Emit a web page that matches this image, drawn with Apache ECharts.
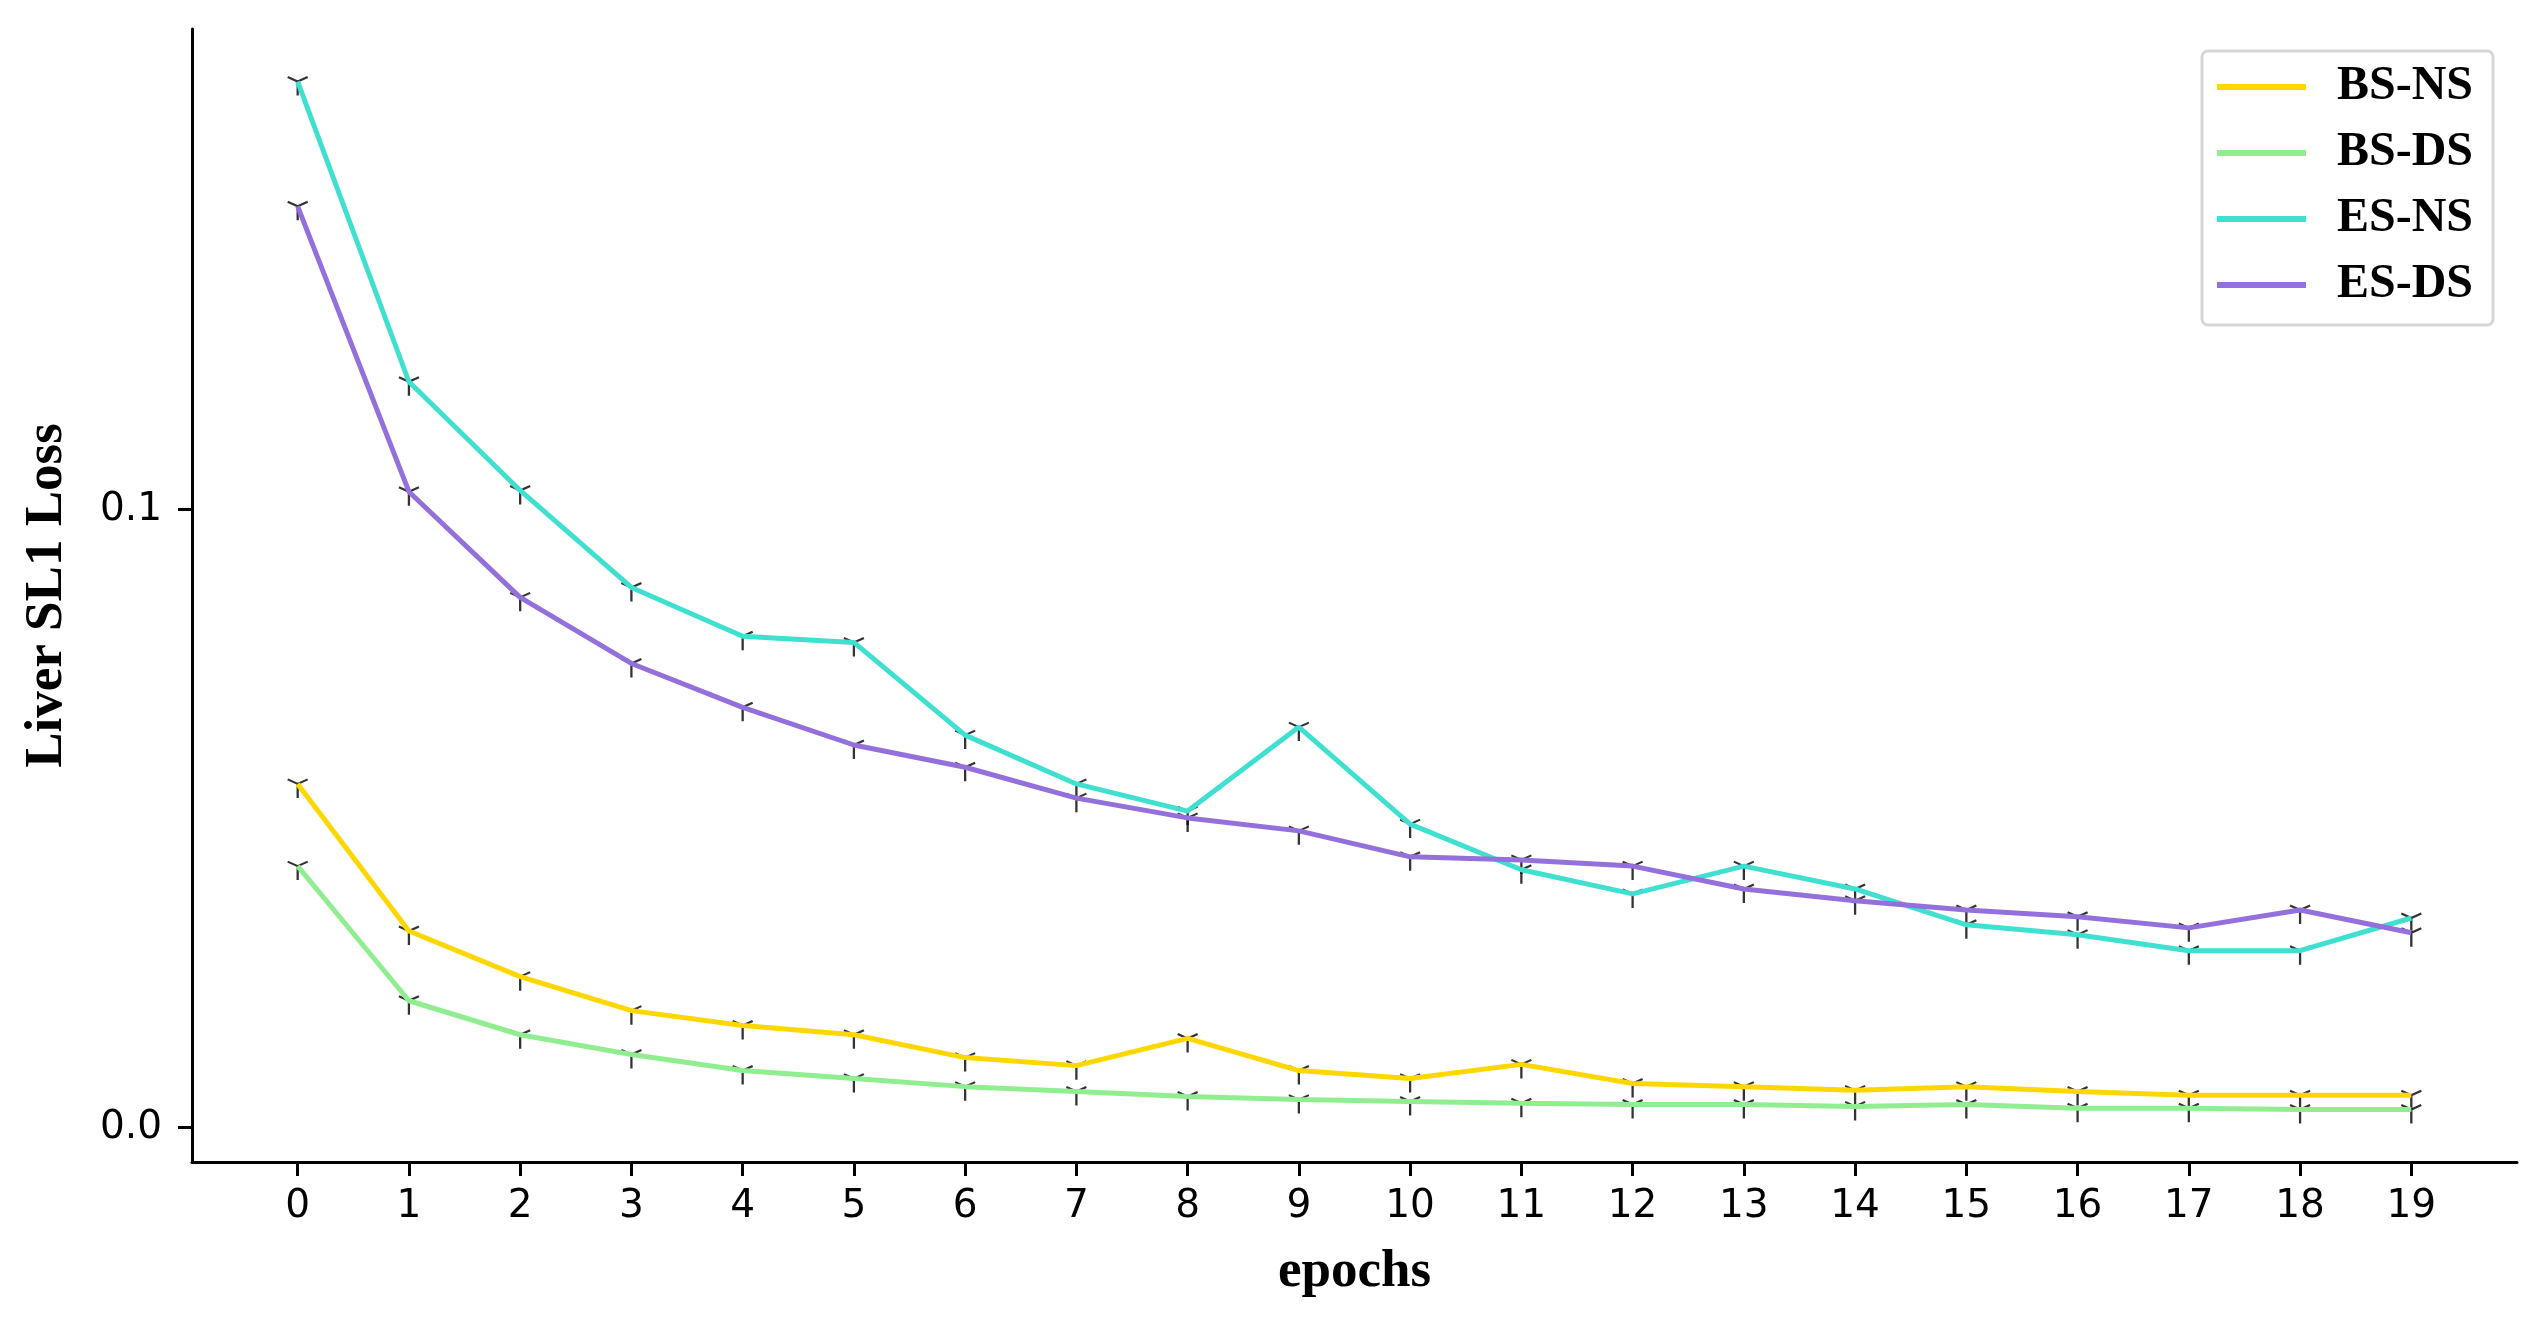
<!DOCTYPE html>
<html>
<head>
<meta charset="utf-8">
<script src="https://cdn.jsdelivr.net/npm/echarts@6/dist/echarts.min.js"></script>
<style>
html,body{margin:0;padding:0;background:#fff;}
#chart{width:2546px;height:1327px;}
</style>
</head>
<body>
<div id="chart"></div>
<script>
var epochs = [0,1,2,3,4,5,6,7,8,9,10,11,12,13,14,15,16,17,18,19];
var xTicks = [0,1,2,3,4,5,6,7,8,9,10,11,12,13,14,15,16,17,18,19];
var yTicks = [0, 0.1];
var names = ['BS-NS','BS-DS','ES-NS','ES-DS'];
var colors = ['#FFD700','#90EE90','#40E0D0','#9370DB'];

var bsNs = [0.0556,0.0318,0.0244,0.0189,0.0165,0.0150,0.0113,0.0100,0.0144,0.0092,
            0.0079,0.0102,0.0071,0.0066,0.0060,0.0066,0.0058,0.0052,0.0052,0.0052];
var bsDs = [0.0423,0.0205,0.0150,0.0118,0.0092,0.0079,0.0066,0.0058,0.0050,0.0045,
            0.0042,0.0039,0.0037,0.0037,0.0034,0.0037,0.0031,0.0031,0.0029,0.0029];
var esNs = [0.1693,0.1207,0.1031,0.0874,0.0795,0.0785,0.0635,0.0556,0.0512,0.0648,
            0.0491,0.0417,0.0378,0.0423,0.0386,0.0328,0.0312,0.0286,0.0286,0.0339];
var esDs = [0.1491,0.1029,0.0858,0.0751,0.0680,0.0619,0.0583,0.0533,0.0501,0.0480,
            0.0438,0.0433,0.0423,0.0386,0.0367,0.0352,0.0341,0.0323,0.0352,0.0315];
var allData = [bsNs, bsDs, esNs, esDs];

function pairs(vals){
    return epochs.map(function(e,i){ return [e, vals[i]]; });
}

// tri_down marker like matplotlib '1'
var triDown = 'path://M0,0 L0,14 M0,0 L-10,-4.5 M0,0 L10,-4.5';

var series = [];
// markers first, underneath the lines
allData.forEach(function(d, i){
    series.push({
        name: names[i] + '_m',
        type: 'scatter',
        z: 1,
        data: pairs(d),
        symbol: triDown,
        symbolSize: [20, 18.5],
        symbolOffset: [0, 4.75],
        itemStyle: {color: 'none', borderColor: '#000', borderWidth: 2.2},
        silent: true
    });
});
allData.forEach(function(d, i){
    series.push({
        name: names[i],
        type: 'line',
        z: 3,
        data: pairs(d),
        symbol: 'none',
        color: colors[i],
        lineStyle: {color: colors[i], width: 5}
    });
});

var chart = echarts.init(document.getElementById('chart'));
var option = {
    animation: false,
    backgroundColor: '#fff',
    grid: {left: 192, right: 29, top: 29, bottom: 165},
    legend: {
        data: names,
        orient: 'vertical',
        left: 2202,
        top: 51,
        icon: 'rect',
        itemWidth: 89,
        itemHeight: 6,
        itemGap: 18,
        padding: [12, 20, 16, 15],
        borderColor: '#d6d6d6',
        borderWidth: 3,
        borderRadius: 6,
        textStyle: {
            fontFamily: 'Liberation Serif',
            fontWeight: 'bold',
            fontSize: 48,
            color: '#000',
            padding: [0, 0, 0, 26]
        }
    },
    xAxis: {
        type: 'value',
        min: -0.95,
        max: 19.95,
        name: 'epochs',
        nameLocation: 'middle',
        nameGap: 84,
        nameTextStyle: {fontFamily: 'Liberation Serif', fontWeight: 'bold', fontSize: 53, color: '#000'},
        axisLine: {onZero: false, lineStyle: {color: '#000', width: 3}},
        axisTick: {customValues: xTicks, length: 14, lineStyle: {color: '#000', width: 3}},
        axisLabel: {customValues: xTicks, margin: 25, fontFamily: 'DejaVu Sans', fontSize: 39, color: '#000'},
        splitLine: {show: false}
    },
    yAxis: {
        type: 'value',
        min: -0.0056,
        max: 0.1778,
        name: 'Liver SL1 Loss',
        nameLocation: 'middle',
        nameRotate: 90,
        nameGap: 118,
        nameTextStyle: {fontFamily: 'Liberation Serif', fontWeight: 'bold', fontSize: 53, color: '#000'},
        axisLine: {show: true, onZero: false, lineStyle: {color: '#000', width: 3}},
        axisTick: {show: true, customValues: yTicks, length: 14, lineStyle: {color: '#000', width: 3}},
        axisLabel: {
            customValues: yTicks, margin: 30, fontFamily: 'DejaVu Sans', fontSize: 39, color: '#000',
            formatter: function(v){ return v.toFixed(1); }
        },
        splitLine: {show: false}
    },
    series: series
};
chart.setOption(option);
</script>
</body>
</html>
